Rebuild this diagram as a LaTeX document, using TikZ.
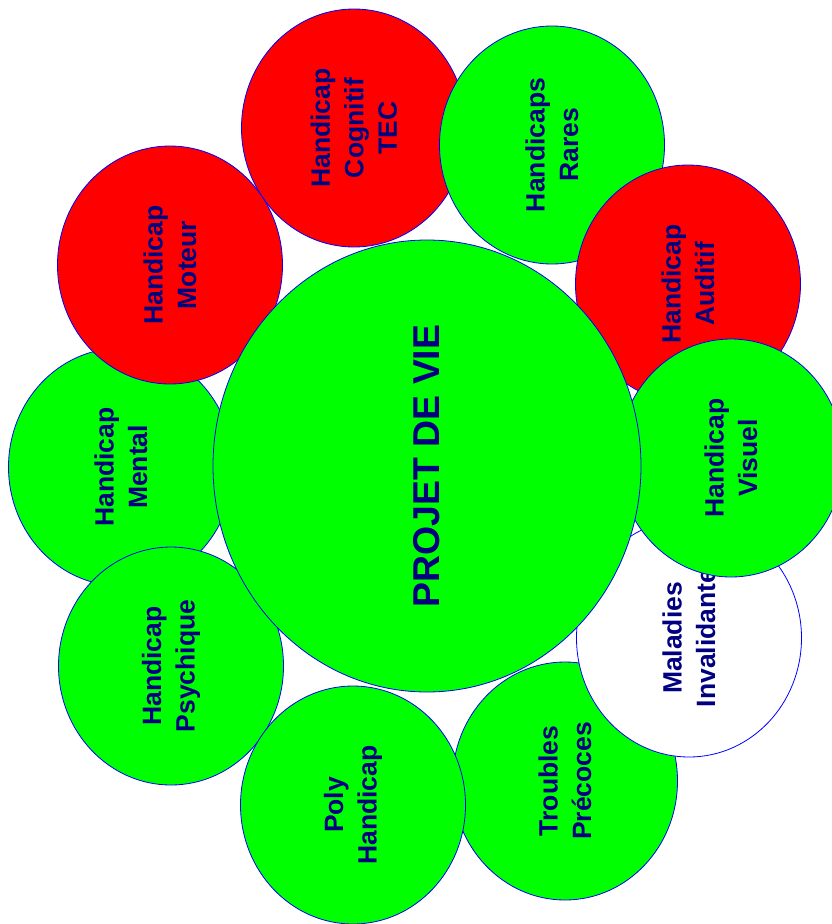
\documentclass[tikz,border=0pt]{standalone}
\usepackage{fontspec}
\setmainfont{Liberation Sans}
\usetikzlibrary{shapes.geometric}
\definecolor{cgreen}{RGB}{0,255,0}
\definecolor{cred}{RGB}{255,0,0}
\definecolor{ctext}{RGB}{0,0,128}
\definecolor{cline}{RGB}{0,0,255}
\tikzset{
  bubble/.style={ellipse, draw=cline, line width=0.8pt, inner sep=0pt, rotate=90,
    minimum width=238pt, minimum height=225pt, align=center, text=ctext,
    font=\fontsize{26.5}{33.5}\selectfont\bfseries},
  gbub/.style={bubble, fill=cgreen},
  rbub/.style={bubble, fill=cred},
  wbub/.style={bubble, fill=white},
  center bub/.style={bubble, fill=cgreen, minimum width=452pt, minimum height=428pt,
    font=\fontsize{37.4}{40}\selectfont\bfseries}
}
\begin{document}
\begin{tikzpicture}[x=1pt,y=-1pt]
\useasboundingbox (0,0) rectangle (831,924);
\node[rbub] (cognitif) at (354,128) {Handicap\\Cognitif\\TEC};
\node[gbub] (rares) at (552,145) {Handicaps\\Rares};
\node[rbub] (auditif) at (688,284) {Handicap\\Auditif};
\node[gbub] (troubles) at (565,781) {Troubles\\Précoces};
\node[wbub] (maladies) at (689,638) {Maladies\\Invalidante};
\node[gbub] (visuel) at (731,458) {Handicap\\Visuel};
\node[gbub] (mental) at (121,467) {Handicap\\Mental};
\node[rbub] (moteur) at (170,265) {Handicap\\Moteur};
\node[gbub] (psychique) at (171,666) {Handicap\\Psychique};
\node[gbub] (poly) at (353,805) {Poly\\Handicap};
\node[center bub] (projet) at (427,466) {PROJET DE VIE};
\end{tikzpicture}
\end{document}
